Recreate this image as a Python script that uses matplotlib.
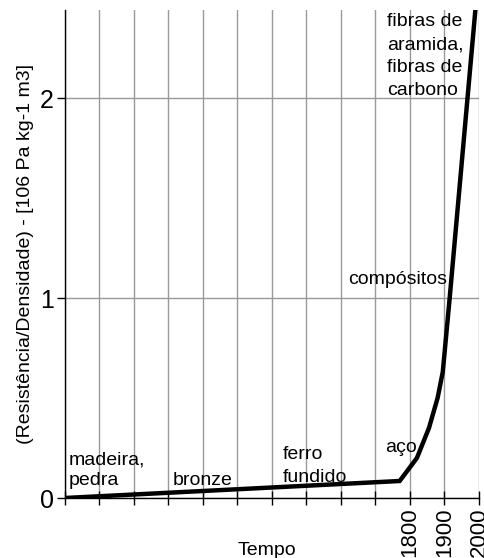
import matplotlib
matplotlib.use("Agg")
import matplotlib.pyplot as plt

plt.rcParams['font.family'] = ['Liberation Sans', 'DejaVu Sans']

# x positions are tick-slot indices (0..12); only the last three are labelled
tick_positions = list(range(13))
tick_labels = [""] * 10 + ["1800", "1900", "2000"]

curve_x = [0, 9.7, 10.2, 10.55, 10.8, 10.95, 11.15, 11.9]
curve_y = [0, 0.085, 0.2, 0.35, 0.5, 0.63, 1.0, 2.45]

labels = ["madeira,\npedra", "bronze", "ferro\nfundido", "aço", "compósitos",
          "fibras de\naramida,\nfibras de\ncarbono"]
label_x = [0.12, 3.13, 6.32, 9.28, 8.2, 9.33]
label_y = [0.065, 0.065, 0.08, 0.23, 1.07, 2.015]
label_spacing = [1.3, 1.3, 1.46, 1.3, 1.3, 1.46]

fig = plt.figure(figsize=(4.85, 5.58), dpi=100)
ax = fig.add_axes([65/485, 60/558, 414/485, 488/558])

ax.plot(curve_x, curve_y, color='black', lw=3.2, solid_joinstyle='miter', clip_on=True, zorder=3)

ax.set_xlim(0, 12)
ax.set_ylim(0, 2.44)
ax.set_xticks(tick_positions)
ax.set_xticklabels(tick_labels, rotation=90, fontsize=16)
ax.set_yticks([0, 1, 2])
ax.set_yticklabels(["0", "1", "2"], fontsize=18)

ax.grid(True, color='#999999', lw=1.0)
ax.set_axisbelow(True)
for s in ['top', 'right']:
    ax.spines[s].set_visible(False)
ax.spines['left'].set_linewidth(1.0)
ax.spines['bottom'].set_linewidth(1.0)
ax.tick_params(axis='x', direction='inout', length=10, width=1, pad=2)
ax.tick_params(axis='y', direction='out', length=6, width=1, pad=2)

for t, x, y, ls in zip(labels, label_x, label_y, label_spacing):
    ax.text(x, y, t, fontsize=14, ha='left', va='baseline', linespacing=ls, zorder=4)

ax.set_xlabel("Tempo", fontsize=14, va='top')
ax.xaxis.set_label_coords(0.488, -0.09)
ax.set_ylabel("(Resistência/Densidade) - [106 Pa kg-1 m3]", fontsize=14, labelpad=4)

fig.savefig("out.png", dpi=100)
